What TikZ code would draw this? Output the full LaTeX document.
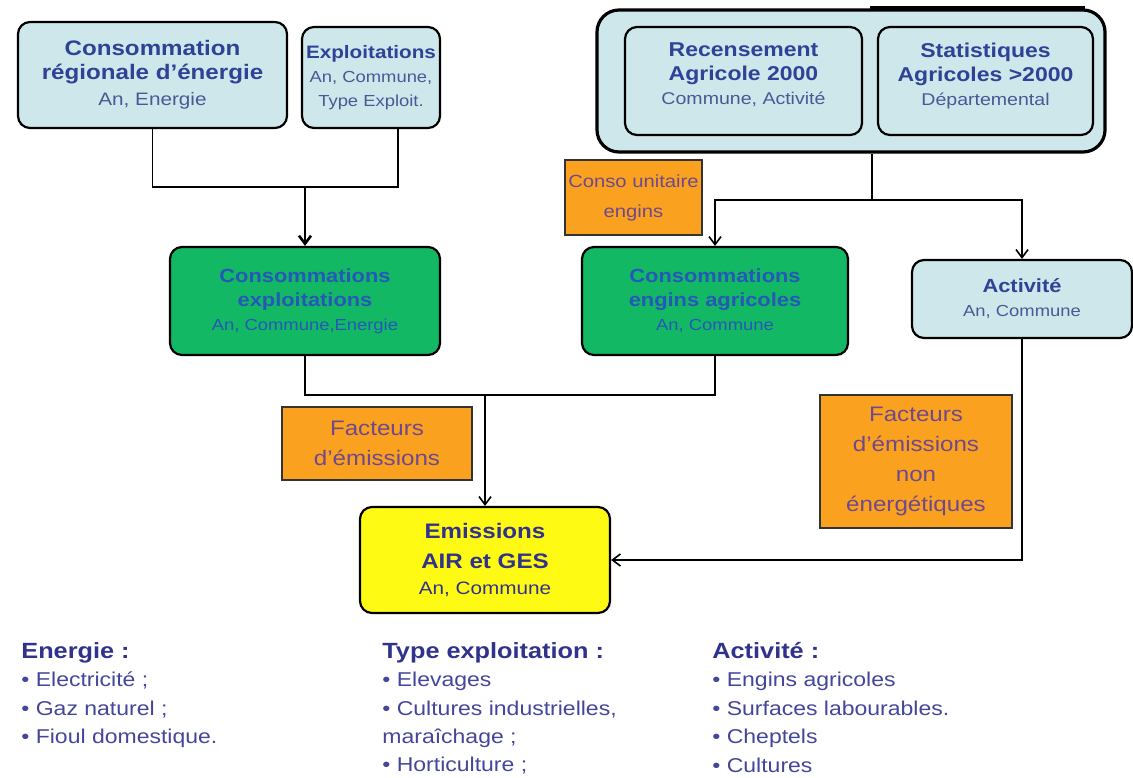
\documentclass[tikz,border=0pt]{standalone}
\usepackage{fontspec}
\setmainfont{Liberation Sans}[FakeStretch=1.15]
\usepackage{tikz}
\usetikzlibrary{arrows.meta}
\definecolor{boxblue}{RGB}{205,231,234}
\definecolor{boxgreen}{RGB}{18,184,100}
\definecolor{boxorange}{RGB}{250,162,32}
\definecolor{boxyellow}{RGB}{255,250,20}
\definecolor{titleblue}{RGB}{48,66,150}
\definecolor{subblue}{RGB}{75,88,150}
\definecolor{greentext}{RGB}{38,88,185}
\definecolor{orangetext}{RGB}{112,72,140}
\definecolor{headblue}{RGB}{48,50,140}
\definecolor{listblue}{RGB}{68,70,155}
\newcommand{\hdfont}{\fontsize{10.5}{12.5}\selectfont\bfseries}
\newcommand{\subfont}{\fontsize{9}{10}\selectfont}
\newcommand{\listhead}{\fontsize{11}{14}\selectfont\bfseries\color{headblue}}
\tikzstyle{srcbox}=[draw=black,line width=1.1pt,rounded corners=6pt,fill=boxblue,align=center,inner sep=0pt,text=titleblue]
\tikzstyle{calcbox}=[draw=black,line width=1.1pt,rounded corners=6pt,fill=boxgreen,align=center,inner sep=0pt,text=greentext]
\tikzstyle{outbox}=[draw=black,line width=1.1pt,rounded corners=6pt,fill=boxyellow,align=center,inner sep=0pt,text=headblue]
\tikzstyle{coefbox}=[draw=black!80,line width=0.9pt,fill=boxorange,align=center,inner sep=0pt,text=orangetext,font=\fontsize{10.5}{15}\selectfont]
\tikzstyle{grpbox}=[draw=black,line width=1.6pt,rounded corners=11pt,fill=boxblue]
\tikzstyle{link}=[line width=0.8pt]
\tikzstyle{flow}=[line width=0.8pt,-{Straight Barb[length=4pt,width=6pt]}]
\tikzstyle{listtxt}=[anchor=north west,align=left,inner sep=0pt,text=listblue,font=\fontsize{10}{14.2}\selectfont]

\begin{document}
\begin{tikzpicture}[x=0.5pt,y=-0.5pt]
    \useasboundingbox (0,0) rectangle (1133,777);
    % sources
    \node[srcbox,minimum width=134.5pt,minimum height=53pt] (conso) at (152.5,75)
        {{\hdfont Consommation}\\{\hdfont régionale d’énergie}\\[1pt]{\subfont\color{subblue} An, Energie}};
    \node[srcbox,minimum width=69pt,minimum height=50.5pt] (exploit) at (371,77.5)
        {{\hdfont\fontsize{9}{12}\selectfont Exploitations}\\{\fontsize{8}{10}\selectfont\color{subblue} An, Commune,}\\{\fontsize{8}{10}\selectfont\color{subblue} Type Exploit.}};
    \node[grpbox,minimum width=254pt,minimum height=71pt] (group) at (851,81) {};
    \draw[line width=2.2pt] ([xshift=9.5pt]group.north) -- ([xshift=117pt]group.north);
    \node[srcbox,minimum width=118.5pt,minimum height=54pt] (recens) at (743.5,81)
        {{\hdfont\fontsize{10}{12.5}\selectfont Recensement}\\{\hdfont\fontsize{10}{12.5}\selectfont Agricole 2000}\\{\fontsize{8.5}{10}\selectfont\color{subblue} Commune, Activité}\\[-5pt]};
    \node[srcbox,minimum width=107.5pt,minimum height=54pt] (stats) at (985.5,81)
        {{\hdfont\fontsize{10}{12.5}\selectfont Statistiques}\\{\hdfont\fontsize{10}{12.5}\selectfont Agricoles >2000}\\{\fontsize{8.5}{10}\selectfont\color{subblue} Départemental}\\[-5pt]};

    % calculs
    \node[coefbox,minimum width=68.5pt,minimum height=37.5pt,font=\fontsize{8.8}{15}\selectfont] (unit) at (633.5,197.5) {Conso unitaire\\engins};
    \node[calcbox,minimum width=135pt,minimum height=54pt] (consexp) at (305,301)
        {{\hdfont\fontsize{9.5}{13}\selectfont Consommations}\\{\hdfont\fontsize{9.5}{13}\selectfont exploitations}\\{\fontsize{8}{10}\selectfont An, Commune,Energie}};
    \node[calcbox,minimum width=133pt,minimum height=54pt] (consengin) at (715,301)
        {{\hdfont\fontsize{9.5}{13}\selectfont Consommations}\\{\hdfont\fontsize{9.5}{13}\selectfont engins agricoles}\\{\fontsize{8}{10}\selectfont An, Commune}};
    \node[srcbox,minimum width=110pt,minimum height=39pt] (activ) at (1022,299)
        {{\hdfont\fontsize{9.5}{13}\selectfont Activité}\\{\fontsize{8}{10}\selectfont\color{subblue} An, Commune}};
    \node[coefbox,minimum width=95pt,minimum height=36.5pt] (facteurs) at (377,443.5) {Facteurs\\d'émissions};
    \node[coefbox,minimum width=96pt,minimum height=66.5pt] (nonen) at (916,461.5) {Facteurs\\d'émissions\\non\\énergétiques};
    \node[outbox,minimum width=125pt,minimum height=53pt] (emis) at (485,560)
        {{\hdfont Emissions}\\[3pt]{\hdfont AIR et GES}\\[1pt]{\subfont An, Commune}};

    % liaisons
    \coordinate (j1) at (305,187);
    \coordinate (j2) at (872,200);
    \coordinate (j3) at (485,395);
    \draw[link] (conso.south) |- (j1) -| ([xshift=13.5pt]exploit.south);
    \draw[flow,line width=1.3pt] (j1) -- (consexp.north);
    \draw[link] ([xshift=10.5pt]group.south) -- (j2);
    \foreach \to in {consengin,activ}
        \draw[flow] (j2) -| (\to.north);
    \draw[link] (consexp.south) |- (j3) -| (consengin.south);
    \draw[flow] (j3) -- (emis.north);
    \draw[flow] (activ.south) |- (emis.east);

    % legendes
    \node[listtxt] (lenergie) at (21,642) {{\listhead Energie :}\\• Electricité ;\\• Gaz naturel ;\\• Fioul domestique.};
    \node[listtxt] (ltype) at (382,642) {{\listhead Type exploitation :}\\• Elevages\\• Cultures industrielles,\\maraîchage ;\\• Horticulture ;};
    \node[listtxt] (lactiv) at (712,642) {{\listhead Activité :}\\• Engins agricoles\\• Surfaces labourables.\\• Cheptels\\• Cultures};
\end{tikzpicture}
\end{document}
